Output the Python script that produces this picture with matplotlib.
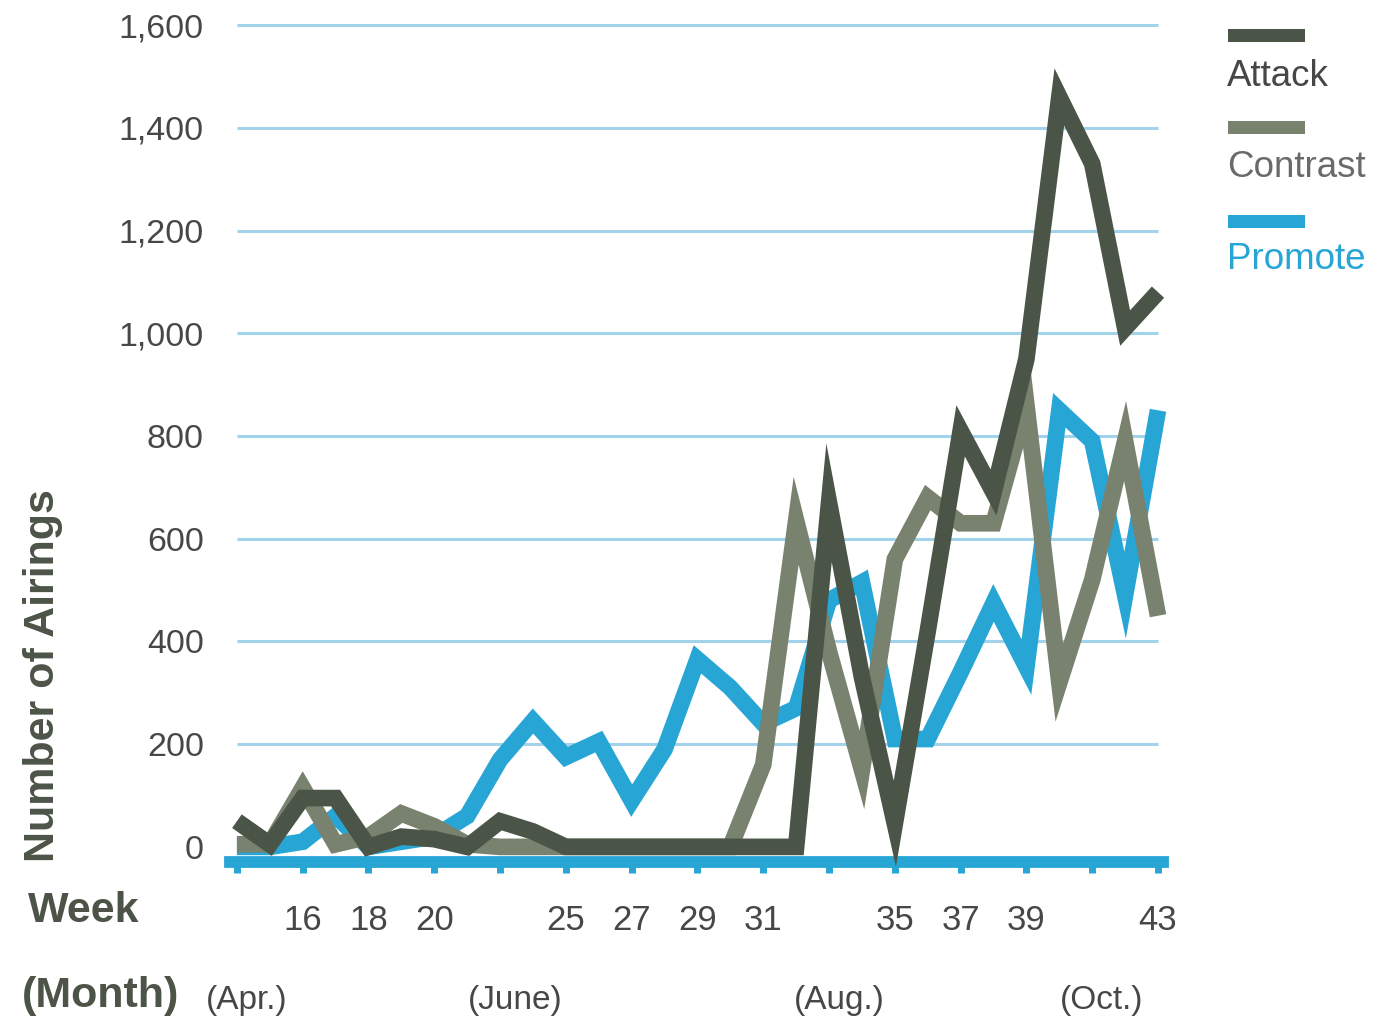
import matplotlib.pyplot as plt
from matplotlib.patches import Rectangle
from matplotlib.transforms import blended_transform_factory

plt.rcParams['font.family'] = ['Liberation Sans', 'DejaVu Sans']

# Weekly airings (weeks 14-43, one week missing between 20 and 25)
weeks = ["14", "15", "16", "17", "18", "19", "20", "21", "23", "24", "25", "26", "27", "28", "29",
         "30", "31", "32", "33", "34", "35", "36", "37", "38", "39", "40", "41", "42", "43"]
attack = [50, 5, 95, 95, 0, 20, 15, 0, 50, 30, 0, 0, 0, 0, 0,
          0, 0, 0, 670, 330, 45, 420, 810, 690, 950, 1460, 1330, 1010, 1080]
contrast = [5, 5, 115, 5, 20, 65, 40, 5, 0, 0, 0, 0, 0, 0, 0,
            0, 160, 635, 380, 150, 560, 680, 630, 630, 860, 320, 520, 790, 450]
promote = [0, 0, 10, 60, 0, 10, 20, 60, 170, 245, 175, 205, 90, 190, 365,
           310, 240, 270, 480, 515, 210, 210, 340, 475, 350, 850, 790, 490, 850]

week_labels = ["", "16", "18", "20", "", "25", "27", "29", "31", "", "35", "37", "39", "", "43"]
months = ["(Apr.)", "(June)", "(Aug.)", "(Oct.)"]
month_pos = [0.3, 8.45, 18.3, 26.3]
y_ticks = [0, 200, 400, 600, 800, 1000, 1200, 1400, 1600]

series_names = ["Attack", "Contrast", "Promote"]
line_colors = ["#4b5547", "#78826e", "#27a6d6"]
text_colors = ["#474747", "#6a6a6a", "#27a6d6"]

BLUE = "#27a6d6"
GRID = "#a3d3ea"
TXT = "#474747"
DARK = "#4c5347"

fig = plt.figure(figsize=(13.98, 10.23), dpi=100)
ax = fig.add_axes([0.1577, 0.132, 0.6824, 0.8636])

x = list(range(len(weeks)))

# light blue guide lines
ax.hlines(y_ticks[1:], 0, len(weeks) - 1, color=GRID, lw=2.2, zorder=1)

for vals, col, z in zip([promote, contrast, attack], line_colors[::-1], [3, 4, 5]):
    ax.plot(x, vals, color=col, lw=12, solid_joinstyle='miter',
            solid_capstyle='butt', zorder=z)

ax.set_xlim(-0.5, len(weeks) - 0.5)
ax.set_ylim(-80, 1640)

# thick blue baseline with small hanging ticks
for s in ['top', 'right', 'left']:
    ax.spines[s].set_visible(False)
ax.spines['bottom'].set_position(('data', -30))
ax.spines['bottom'].set_bounds(-0.2, len(weeks) - 0.85)
ax.spines['bottom'].set_color(BLUE)
ax.spines['bottom'].set_linewidth(8.5)
ax.spines['bottom'].set_zorder(2)

ax.set_xticks(range(0, len(weeks), 2))
ax.set_xticklabels(week_labels)
ax.tick_params(axis='x', direction='out', length=7.8, width=5, color=BLUE,
               pad=22, labelsize=25, labelcolor=TXT)

ax.set_yticks(y_ticks)
ax.set_yticklabels([f"{v:,}" for v in y_ticks])
ax.tick_params(axis='y', length=0, pad=12, labelsize=24.5, labelcolor=TXT)

fig.text(0.031, 0.34, "Number of Airings", rotation=90, ha='center', va='center',
         fontsize=31, fontweight='bold', color=DARK)
fig.text(0.02, 1 - 911 / 1023, "Week", ha='left', va='center',
         fontsize=31, fontweight='bold', color=DARK)
fig.text(0.016, 1 - 996 / 1023, "(Month)", ha='left', va='center',
         fontsize=31, fontweight='bold', color=DARK)

trans = blended_transform_factory(ax.transData, fig.transFigure)
for m, p in zip(months, month_pos):
    ax.text(p, 1 - 1001 / 1023, m, transform=trans, ha='center', va='center',
            fontsize=24, color=TXT)

# legend on the right
sw_bottom = [0.9589, 0.869, 0.7771]
lab_y = [0.9257, 0.8358, 0.7459]
for name, col, tcol, b, ty in zip(series_names, line_colors, text_colors, sw_bottom, lab_y):
    fig.patches.append(Rectangle((0.8784, b), 0.0551, 0.0125, transform=fig.transFigure,
                                 facecolor=col, edgecolor='none'))
    fig.text(0.8777, ty, name, ha='left', va='center', fontsize=26.5, color=tcol)

fig.savefig("out.png", dpi=100)
